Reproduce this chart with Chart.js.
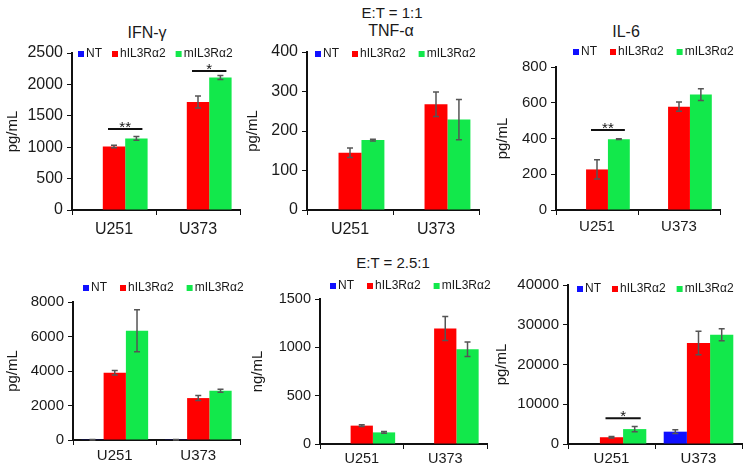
<!DOCTYPE html>
<html>
<head>
<meta charset="utf-8">
<script src="https://cdn.jsdelivr.net/npm/chart.js@4.4.0/dist/chart.umd.min.js"></script>
<style>
  body { margin: 0; background: #fff; font-family: "Liberation Sans", Arial, sans-serif; }
  #wrap { position: relative; width: 744px; height: 471px; overflow: hidden; background: #fff; }
  .box { position: absolute; }
  .lbl { position: absolute; transform: translate(-50%, -50%); white-space: nowrap; color: #1a1a1a; }
</style>
</head>
<body>
<div id="wrap">
  <div class="lbl" style="left:392px; top:12px; font-size:15px;">E:T = 1:1</div>
  <div class="lbl" style="left:147px; top:33px; font-size:16px;">IFN-γ</div>
  <div class="lbl" style="left:391px; top:31px; font-size:16px;">TNF-α</div>
  <div class="lbl" style="left:626px; top:32px; font-size:16px;">IL-6</div>
  <div class="lbl" style="left:393px; top:262px; font-size:15px;">E:T = 2.5:1</div>
</div>
<script>
const categories = ['U251', 'U373'];
const seriesNames = ['NT', 'hIL3Rα2', 'mIL3Rα2'];
const seriesColors = ['#1010ff', '#ff0000', '#12e84b'];

// E:T = 1:1
const ifnNT = [0, 0];
const ifnH = [1010, 1720];
const ifnM = [1140, 2110];
const ifnErrNT = [0, 0];
const ifnErrH = [20, 95];
const ifnErrM = [30, 30];
const ifnTicks = [0, 500, 1000, 1500, 2000, 2500];
const ifnSig = [{ cat: 0, y: 1290, label: '**' }, { cat: 1, y: 2213, label: '*' }];

const tnfNT = [0, 0];
const tnfH = [145, 268];
const tnfM = [177, 229];
const tnfErrNT = [0, 0];
const tnfErrH = [12, 31];
const tnfErrM = [2, 51];
const tnfTicks = [0, 100, 200, 300, 400];

const il6NT = [0, 0];
const il6H = [227, 578];
const il6M = [396, 646];
const il6ErrNT = [0, 0];
const il6ErrH = [54, 26];
const il6ErrM = [2, 33];
const il6Ticks = [0, 200, 400, 600, 800];
const il6Sig = [{ cat: 0, y: 447, label: '**' }];

// E:T = 2.5:1
const ifn2NT = [20, 20];
const ifn2H = [3900, 2430];
const ifn2M = [6330, 2860];
const ifn2ErrNT = [15, 15];
const ifn2ErrH = [130, 145];
const ifn2ErrM = [1220, 85];
const ifn2Ticks = [0, 2000, 4000, 6000, 8000];

const tnf2NT = [0, 0];
const tnf2H = [190, 1195];
const tnf2M = [120, 980];
const tnf2ErrNT = [0, 0];
const tnf2ErrH = [10, 125];
const tnf2ErrM = [10, 75];
const tnf2Ticks = [0, 500, 1000, 1500];

const il62NT = [0, 3100];
const il62H = [1700, 25400];
const il62M = [3750, 27500];
const il62ErrNT = [0, 480];
const il62ErrH = [200, 2950];
const il62ErrM = [670, 1500];
const il62Ticks = [0, 10000, 20000, 30000, 40000];
const il62Sig = [{ cat: 0, y: 6480, label: '*' }];

Chart.defaults.font.family = '"Liberation Sans", Arial, sans-serif';
Chart.defaults.color = '#1a1a1a';

const panels = [
  { values: [ifnNT, ifnH, ifnM], errors: [ifnErrNT, ifnErrH, ifnErrM], ticks: ifnTicks, sig: ifnSig, unit: 'pg/mL',
    box: { x: 4, y: 0, w: 244, h: 235 }, area: { l: 72, r: 240, t: 53, b: 210 }, tickFont: 16, xPad: 5,
    legend: { x: 78, y: 54, gap: 10 } },
  { values: [tnfNT, tnfH, tnfM], errors: [tnfErrNT, tnfErrH, tnfErrM], ticks: tnfTicks, sig: [], unit: 'pg/mL',
    box: { x: 244, y: 0, w: 246, h: 235 }, area: { l: 307, r: 479, t: 52, b: 210 }, tickFont: 16, xPad: 5,
    legend: { x: 315, y: 54, gap: 13 } },
  { values: [il6NT, il6H, il6M], errors: [il6ErrNT, il6ErrH, il6ErrM], ticks: il6Ticks, sig: il6Sig, unit: 'pg/mL',
    box: { x: 494, y: 0, w: 250, h: 235 }, area: { l: 556, r: 720, t: 67, b: 210 }, tickFont: 15, xPad: 3,
    legend: { x: 573, y: 52, gap: 13 } },
  { values: [ifn2NT, ifn2H, ifn2M], errors: [ifn2ErrNT, ifn2ErrH, ifn2ErrM], ticks: ifn2Ticks, sig: [], unit: 'pg/mL',
    box: { x: 4, y: 235, w: 244, h: 236 }, area: { l: 73, r: 240, t: 302, b: 440 }, tickFont: 15, xPad: 2,
    legend: { x: 83, y: 288, gap: 13 } },
  { values: [tnf2NT, tnf2H, tnf2M], errors: [tnf2ErrNT, tnf2ErrH, tnf2ErrM], ticks: tnf2Ticks, sig: [], unit: 'ng/mL',
    box: { x: 249, y: 235, w: 245, h: 236 }, area: { l: 320, r: 487, t: 299, b: 444 }, tickFont: 14.5, xPad: 1,
    legend: { x: 330, y: 286, gap: 13 } },
  { values: [il62NT, il62H, il62M], errors: [il62ErrNT, il62ErrH, il62ErrM], ticks: il62Ticks, sig: il62Sig, unit: 'pg/mL',
    box: { x: 493, y: 235, w: 251, h: 236 }, area: { l: 568, r: 742, t: 285, b: 444 }, tickFont: 15, xPad: 1,
    legend: { x: 577, y: 289, gap: 11 } }
];

function makePanel(p) {
  const B = p.box, A = p.area;
  const div = document.createElement('div');
  div.className = 'box';
  div.style.left = B.x + 'px';
  div.style.top = B.y + 'px';
  const cv = document.createElement('canvas');
  cv.width = B.w; cv.height = B.h;
  cv.style.width = B.w + 'px'; cv.style.height = B.h + 'px';
  div.appendChild(cv);
  document.getElementById('wrap').appendChild(div);

  const yW = A.l - B.x;
  const xH = B.y + B.h - A.b;

  const extras = {
    id: 'extras',
    afterDatasetsDraw(chart) {
      const ctx = chart.ctx;
      const ys = chart.scales.y;
      ctx.save();
      // error bars
      chart.data.datasets.forEach((ds, i) => {
        const meta = chart.getDatasetMeta(i);
        meta.data.forEach((bar, j) => {
          const e = p.errors[i][j];
          if (!e) return;
          const v = ds.data[j];
          const top = ys.getPixelForValue(v + e);
          const bot = ys.getPixelForValue(Math.max(v - e, 0));
          ctx.strokeStyle = '#555';
          ctx.lineWidth = 1.5;
          ctx.beginPath();
          ctx.moveTo(bar.x, top); ctx.lineTo(bar.x, bot);
          ctx.moveTo(bar.x - 3, top); ctx.lineTo(bar.x + 3, top);
          ctx.moveTo(bar.x - 3, bot); ctx.lineTo(bar.x + 3, bot);
          ctx.stroke();
        });
      });
      // significance marks
      p.sig.forEach(s => {
        const a = chart.getDatasetMeta(1).data[s.cat];
        const b = chart.getDatasetMeta(2).data[s.cat];
        const ly = ys.getPixelForValue(s.y);
        ctx.strokeStyle = '#111';
        ctx.lineWidth = 2;
        ctx.beginPath();
        ctx.moveTo(a.x - 6, ly); ctx.lineTo(b.x + 6, ly);
        ctx.stroke();
        ctx.fillStyle = '#111';
        ctx.font = '15px "Liberation Sans", Arial, sans-serif';
        ctx.textAlign = 'center';
        ctx.textBaseline = 'alphabetic';
        ctx.fillText(s.label, (a.x + b.x) / 2, ly + 3);
      });
      // legend
      let lx = p.legend.x - B.x;
      const lyc = p.legend.y - B.y;
      ctx.font = '12px "Liberation Sans", Arial, sans-serif';
      ctx.textAlign = 'left';
      ctx.textBaseline = 'middle';
      chart.data.datasets.forEach((ds, i) => {
        ctx.fillStyle = seriesColors[i];
        ctx.fillRect(lx, lyc - 3, 6, 6);
        lx += 8;
        ctx.fillStyle = '#1a1a1a';
        ctx.fillText(ds.label, lx, lyc);
        lx += ctx.measureText(ds.label).width + p.legend.gap;
      });
      ctx.restore();
    }
  };

  new Chart(cv.getContext('2d'), {
    type: 'bar',
    data: {
      labels: categories,
      datasets: p.values.map((vals, i) => ({
        label: seriesNames[i],
        data: vals,
        backgroundColor: seriesColors[i],
        borderWidth: 0,
        categoryPercentage: 0.8,
        barPercentage: 1.0
      }))
    },
    options: {
      responsive: false,
      animation: false,
      devicePixelRatio: 1,
      layout: { padding: { left: 0, top: A.t - B.y, right: B.x + B.w - A.r, bottom: 0 } },
      plugins: { legend: { display: false }, tooltip: { enabled: false } },
      scales: {
        x: {
          grid: { drawOnChartArea: false, drawTicks: true, tickLength: 5, color: '#111', lineWidth: 1, offset: true },
          border: { color: '#111', width: 2 },
          ticks: { font: { size: p.tickFont }, padding: p.xPad, color: '#1a1a1a' },
          afterFit: s => { s.height = xH; }
        },
        y: {
          min: p.ticks[0],
          max: p.ticks[p.ticks.length - 1],
          afterBuildTicks: s => { s.ticks = p.ticks.map(v => ({ value: v })); },
          grid: { drawOnChartArea: false, drawTicks: true, tickLength: 5, color: '#111', lineWidth: 1 },
          border: { color: '#111', width: 2 },
          ticks: { font: { size: p.tickFont }, padding: 4, color: '#1a1a1a', callback: v => String(v) },
          title: { display: true, text: p.unit, font: { size: 15 }, padding: { top: 0, bottom: 0 }, color: '#1a1a1a' },
          afterFit: s => { s.width = yW; }
        }
      }
    },
    plugins: [extras]
  });
}

panels.forEach(makePanel);
</script>
</body>
</html>
